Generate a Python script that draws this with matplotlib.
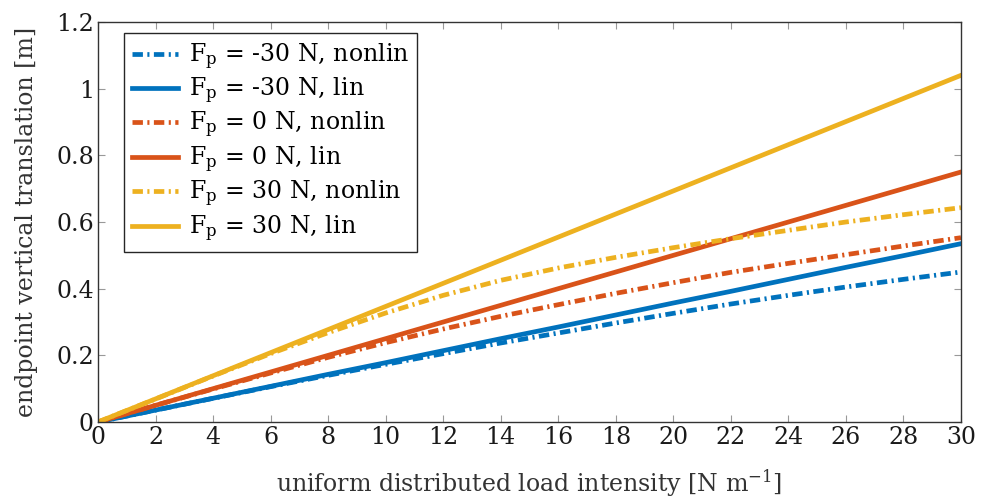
import matplotlib
matplotlib.use("Agg")
import matplotlib.pyplot as plt

plt.rcParams['font.family'] = ['DejaVu Serif']
plt.rcParams['mathtext.fontset'] = 'dejavuserif'
plt.rcParams['lines.scale_dashes'] = False

load = [0, 2, 4, 6, 8, 10, 12, 14, 16, 18, 20, 22, 24, 26, 28, 30]

m30_nonlin = [0, 0.0356, 0.071, 0.106, 0.140, 0.173, 0.205, 0.237, 0.267, 0.297,
              0.326, 0.354, 0.380, 0.405, 0.428, 0.450]
m30_lin = [0, 0.0357, 0.0713, 0.107, 0.143, 0.178, 0.214, 0.250, 0.285, 0.321,
           0.357, 0.392, 0.428, 0.464, 0.499, 0.535]
z_nonlin = [0, 0.050, 0.099, 0.147, 0.194, 0.238, 0.279, 0.317, 0.352, 0.386,
            0.418, 0.449, 0.476, 0.502, 0.528, 0.553]
z_lin = [0, 0.05, 0.10, 0.15, 0.20, 0.25, 0.30, 0.35, 0.40, 0.45,
         0.50, 0.55, 0.60, 0.65, 0.70, 0.75]
p30_nonlin = [0, 0.069, 0.138, 0.205, 0.268, 0.327, 0.380, 0.425, 0.462, 0.494,
              0.523, 0.550, 0.575, 0.600, 0.622, 0.643]
p30_lin = [0, 0.0693, 0.1387, 0.208, 0.2773, 0.3467, 0.416, 0.4853, 0.5547, 0.624,
           0.6933, 0.7627, 0.832, 0.9013, 0.9707, 1.04]

labels = [r"F$_\mathrm{p}$ = -30 N, nonlin", r"F$_\mathrm{p}$ = -30 N, lin",
          r"F$_\mathrm{p}$ = 0 N, nonlin", r"F$_\mathrm{p}$ = 0 N, lin",
          r"F$_\mathrm{p}$ = 30 N, nonlin", r"F$_\mathrm{p}$ = 30 N, lin"]

blue, orange, yellow = "#0072BD", "#D95319", "#EDB120"

fig = plt.figure(figsize=(9.81, 4.99), dpi=100)
ax = fig.add_axes([0.0999, 0.1543, 0.8797, 0.8016])

series = [(m30_nonlin, blue, True), (m30_lin, blue, False),
          (z_nonlin, orange, True), (z_lin, orange, False),
          (p30_nonlin, yellow, True), (p30_lin, yellow, False)]
for (ys, c, dd), lab in zip(series, labels):
    if dd:
        ax.plot(load, ys, color=c, linewidth=3.4, label=lab,
                dashes=(7.5, 3.2, 1.5, 3.2))
    else:
        ax.plot(load, ys, color=c, linestyle='-', linewidth=3.4, label=lab)

ax.set_xlim(0, 30)
ax.set_ylim(0, 1.2)
ax.set_xticks(range(0, 31, 2))
ax.set_yticks([0, 0.2, 0.4, 0.6, 0.8, 1.0, 1.2])
ax.set_yticklabels(["0", "0.2", "0.4", "0.6", "0.8", "1", "1.2"])
ax.tick_params(direction='in', length=5, top=True, right=True, labelsize=17,
               color='#999999', labelcolor='#1a1a1a', pad=3)
for s in ax.spines.values():
    s.set_color('#333333')
    s.set_linewidth(1.0)

ax.set_xlabel(r"uniform distributed load intensity [N m$^{\mathrm{-1}}$]", fontsize=17,
              color='#333333', labelpad=13)
ax.set_ylabel("endpoint vertical translation [m]", fontsize=17, color='#333333', labelpad=13)

leg = ax.legend(loc='upper left', bbox_to_anchor=(0.030, 0.9725), fontsize=17,
                frameon=True, fancybox=False,
                edgecolor='#262626', framealpha=1, handlelength=1.95,
                borderaxespad=0.0, labelspacing=0.17, borderpad=0.35, handletextpad=0.45)
leg.get_frame().set_linewidth(1.0)

fig.savefig("out.png", dpi=100)
